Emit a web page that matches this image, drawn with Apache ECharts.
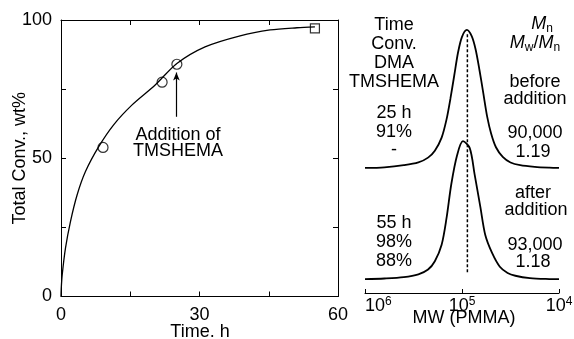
<!DOCTYPE html>
<html>
<head>
<meta charset="utf-8">
<script src="https://cdn.jsdelivr.net/npm/echarts@6/dist/echarts.min.js"></script>
<style>
  html, body { margin: 0; padding: 0; background: #fff; }
  #main { width: 574px; height: 339px; }
</style>
</head>
<body>
<div id="main"></div>
<script>
// conversion vs time (left panel)
var curveTime = [0, 0.05, 0.26, 0.97, 2.05, 3.5, 5.3, 8.17, 11.4, 15.4, 20.4, 25.1, 31.2, 38.8, 45.3, 51.1, 55];
var curveConv = [0, 2.8, 7.8, 17.5, 27.1, 36.8, 45.2, 54.2, 62.1, 69.3, 76.5, 84.3, 90.3, 94.3, 96.4, 97.2, 97.5];
var pointTime = [9.1, 21.9, 25.1];
var pointConv = [53.9, 77.5, 84.0];
var squareTime = [55];
var squareConv = [97.0];
var arrowTime = 25;
var arrowConv = [65, 81];

// GPC traces (right panel), log10 MW vs normalised height
var topLogMW = [6.00, 5.80, 5.60, 5.45, 5.35, 5.28, 5.21, 5.16, 5.12, 5.08, 5.04, 5.00, 4.95, 4.90, 4.86, 4.82, 4.78, 4.74, 4.70, 4.65, 4.58, 4.50, 4.40, 4.25, 4.10, 4.00];
var topHeight = [0, 0.005, 0.02, 0.04, 0.075, 0.125, 0.22, 0.35, 0.50, 0.67, 0.84, 0.95, 1.0, 0.955, 0.86, 0.71, 0.54, 0.37, 0.25, 0.15, 0.08, 0.04, 0.02, 0.008, 0.002, 0];
var botLogMW = [6.00, 5.80, 5.60, 5.45, 5.35, 5.28, 5.21, 5.16, 5.11, 5.05, 4.99, 4.92, 4.87, 4.81, 4.76, 4.69, 4.61, 4.53, 4.45, 4.30, 4.10, 4.00];
var botHeight = [0, 0.005, 0.015, 0.035, 0.07, 0.13, 0.25, 0.44, 0.69, 0.90, 1.0, 0.95, 0.76, 0.52, 0.32, 0.19, 0.09, 0.045, 0.025, 0.008, 0.001, 0];
var topOffset = 0.906;
var botOffset = 0.10;
var peakMW = 88000;
var peakLineY = [0.15, 1.88];

var FONT = '"Liberation Sans", Arial, Helvetica, sans-serif';

function zip(xs, ys) {
    var out = [];
    for (var i = 0; i < xs.length; i++) out.push([xs[i], ys[i]]);
    return out;
}
function trace(logs, hs, off) {
    var out = [];
    for (var i = 0; i < logs.length; i++) out.push([Math.pow(10, logs[i]), hs[i] + off]);
    return out;
}

var chart = echarts.init(document.getElementById('main'));

function boxAxis() {
    return {
        axisLine: { show: true, onZero: false, lineStyle: { color: '#000', width: 1 } },
        axisTick: { show: true, inside: true, length: 5, lineStyle: { color: '#000', width: 1 } },
        splitLine: { show: false }
    };
}

var textStyle = { font: '18px ' + FONT, fill: '#000', align: 'center', verticalAlign: 'middle' };
function txt(s, x, y) {
    return { type: 'text', x: x, y: y, style: Object.assign({ text: s }, textStyle) };
}
var rich = {
    it: { fontStyle: 'italic', fontSize: 18, fontFamily: FONT },
    sub: { fontSize: 12, fontFamily: FONT, padding: [10, 0, 0, 0] }
};

var leftRect = { left: 61, top: 20, width: 277, height: 276.5, containLabel: false, outerBoundsMode: 'none' };

var option = {
    backgroundColor: '#fff',
    animation: false,
    textStyle: { fontFamily: FONT },
    grid: [
        leftRect,
        { left: 365, top: 17, width: 194, height: 276, containLabel: false, outerBoundsMode: 'none' },
        Object.assign({}, leftRect)   // mirrored top/right axes of the left panel
    ],
    xAxis: [
        Object.assign(boxAxis(), {
            type: 'value', gridIndex: 0, min: 0, max: 60, interval: 15,
            axisLabel: { fontSize: 18, color: '#000', margin: 10,
                formatter: function (v) { return v % 30 === 0 ? v : ''; } }
        }),
        {
            type: 'log', logBase: 10, gridIndex: 1, min: 1e4, max: 1e6, inverse: true,
            axisLine: { show: true, onZero: false, lineStyle: { color: '#000', width: 1 } },
            axisTick: { show: true, inside: true, length: 4, lineStyle: { color: '#000' } },
            minorTick: { show: false },
            splitLine: { show: false },
            axisLabel: {
                color: '#000', margin: 3, alignMaxLabel: 'left',
                formatter: function (v) {
                    return '{b|10}{s|' + Math.round(Math.log(v) / Math.LN10) + '}';
                },
                rich: {
                    b: { fontSize: 18, fontFamily: FONT, color: '#000' },
                    s: { fontSize: 12, fontFamily: FONT, color: '#000', padding: [0, 0, 9, 0] }
                }
            }
        },
        Object.assign(boxAxis(), {
            type: 'value', gridIndex: 2, position: 'top', min: 0, max: 60, interval: 15,
            axisLabel: { show: false }
        })
    ],
    yAxis: [
        Object.assign(boxAxis(), {
            type: 'value', gridIndex: 0, min: 0, max: 100, interval: 25,
            name: 'Total Conv., wt%', nameLocation: 'middle', nameGap: 32, nameRotate: 90,
            nameMoveOverlap: false,
            nameTextStyle: { fontSize: 18, color: '#000' },
            axisLabel: { fontSize: 18, color: '#000', margin: 9,
                formatter: function (v) { return v % 50 === 0 ? v : ''; } }
        }),
        { type: 'value', gridIndex: 1, min: 0, max: 2, show: false },
        Object.assign(boxAxis(), {
            type: 'value', gridIndex: 2, position: 'right', min: 0, max: 100, interval: 25,
            axisLabel: { show: false }
        })
    ],
    series: [
        {
            type: 'line', xAxisIndex: 0, yAxisIndex: 0, data: zip(curveTime, curveConv),
            showSymbol: false, smooth: 0.3, lineStyle: { color: '#000', width: 1.3 }
        },
        {
            // binds the mirrored top/right axes of the left panel
            type: 'line', xAxisIndex: 2, yAxisIndex: 2, data: zip(squareTime, squareConv),
            showSymbol: false, lineStyle: { opacity: 0 }, silent: true
        },
        {
            type: 'scatter', xAxisIndex: 0, yAxisIndex: 0, data: zip(pointTime, pointConv),
            symbol: 'circle', symbolSize: 10,
            itemStyle: { color: 'rgba(0,0,0,0)', borderColor: '#000', borderWidth: 1.2 },
            markLine: {
                silent: true, symbol: ['none', 'arrow'], symbolSize: [5, 8],
                label: { show: false },
                lineStyle: { color: '#000', width: 1.2, type: 'solid' },
                data: [[{ coord: [arrowTime, arrowConv[0]] }, { coord: [arrowTime, arrowConv[1]] }]]
            }
        },
        {
            type: 'scatter', xAxisIndex: 0, yAxisIndex: 0, data: zip(squareTime, squareConv),
            symbol: 'rect', symbolSize: 9,
            itemStyle: { color: 'rgba(0,0,0,0)', borderColor: '#000', borderWidth: 1.2 }
        },
        {
            type: 'line', xAxisIndex: 1, yAxisIndex: 1, data: trace(topLogMW, topHeight, topOffset),
            showSymbol: false, smooth: 0.3, lineStyle: { color: '#000', width: 1.8 }
        },
        {
            type: 'line', xAxisIndex: 1, yAxisIndex: 1, data: trace(botLogMW, botHeight, botOffset),
            showSymbol: false, smooth: 0.3, lineStyle: { color: '#000', width: 1.8 }
        },
        {
            type: 'line', xAxisIndex: 1, yAxisIndex: 1,
            data: [[peakMW, peakLineY[0]], [peakMW, peakLineY[1]]],
            showSymbol: false, lineStyle: { color: '#000', width: 1.5, type: [3, 2] }
        }
    ],
    graphic: [
        // axis titles
        txt('Time. h', 200, 332),
        txt('MW (PMMA)', 464, 318),
        // annotations
        txt('Addition of', 178, 135),
        txt('TMSHEMA', 178, 151),
        txt('Time', 394, 25),
        txt('Conv.', 394, 44),
        txt('DMA', 394, 63),
        txt('TMSHEMA', 394, 82),
        txt('25 h', 394, 113),
        txt('91%', 394, 132),
        txt('-', 394, 150),
        txt('55 h', 394, 223),
        txt('98%', 394, 242),
        txt('88%', 394, 261),
        { type: 'text', x: 542, y: 24, style: Object.assign({ text: '{it|M}{sub|n}', rich: rich }, textStyle) },
        { type: 'text', x: 535, y: 43, style: Object.assign({ text: '{it|M}{sub|w}/{it|M}{sub|n}', rich: rich }, textStyle) },
        txt('before', 535, 82),
        txt('addition', 535, 99),
        txt('90,000', 535, 133),
        txt('1.19', 533, 152),
        txt('after', 533, 193),
        txt('addition', 536, 210),
        txt('93,000', 535, 245),
        txt('1.18', 533, 262)
    ]
};

chart.setOption(option);
</script>
</body>
</html>
